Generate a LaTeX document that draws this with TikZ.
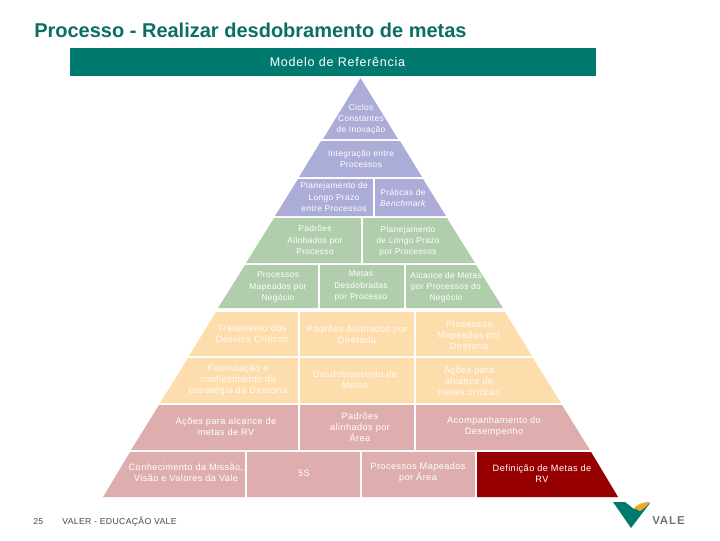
\documentclass[tikz,border=0pt]{standalone}
\usepackage{fontspec}
\setmainfont{Liberation Sans}
\usepackage{tikz}
\definecolor{valeTeal}{RGB}{0,122,110}
\definecolor{valeTitle}{RGB}{10,110,100}
\definecolor{valeGold}{RGB}{236,170,40}
\definecolor{bandLilac}{RGB}{172,172,216}
\definecolor{bandGreen}{RGB}{176,206,172}
\definecolor{bandPeach}{RGB}{253,221,172}
\definecolor{bandRose}{RGB}{222,174,174}
\definecolor{bandRed}{RGB}{150,0,0}
\definecolor{footGray}{RGB}{70,70,70}

\begin{document}
\begin{tikzpicture}[
    x=0.75pt, y=-0.75pt,
    band/.style={fill=#1, draw=none},
    gap/.style={draw=white, line width=1.6pt},
    cell/.style={align=center, text=white, font=\fontsize{6.9}{8.3}\selectfont\addfontfeature{LetterSpace=4.5}, inner sep=0pt},
    small/.style={cell, font=\fontsize{6.3}{8.3}\selectfont\addfontfeature{LetterSpace=4}},
    faint/.style={cell, text=white!92!bandPeach},
    foot/.style={anchor=west, inner sep=0pt, text=footGray, font=\fontsize{6.5}{7.5}\selectfont\addfontfeature{LetterSpace=4}}
]
\useasboundingbox (0,0) rectangle (720,540);
% header
\node[anchor=west, inner sep=0pt, text=valeTitle, font=\fontsize{15}{18}\bfseries\selectfont] (title) at (34,30) {Processo - Realizar desdobramento de metas};
\node[fill=valeTeal, minimum width=394.5pt, minimum height=21pt, inner sep=0pt, text=white, font=\fontsize{9.4}{11}\selectfont\addfontfeature{LetterSpace=6}] (header) at (333,62) {};
\node[inner sep=0pt, text=white, font=\fontsize{9.4}{11}\selectfont\addfontfeature{LetterSpace=6}] (headerText) at (337.5,62) {Modelo de Referência};
% pyramid bands
\fill[band=bandLilac] (360.5,78) -- (323,139) -- (398,139) -- cycle;
\fill[band=bandLilac] (321,141) -- (400,141) -- (422,177) -- (299,177) -- cycle;
\fill[band=bandLilac] (298,179) -- (423,179) -- (446,216) -- (275,216) -- cycle;
\fill[band=bandGreen] (274,218) -- (447,218) -- (475,263) -- (246,263) -- cycle;
\fill[band=bandGreen] (245,265) -- (476,265) -- (503,308) -- (218,308) -- cycle;
\fill[band=bandPeach] (216,312) -- (505,312) -- (532,356) -- (189,356) -- cycle;
\fill[band=bandPeach] (188,358) -- (533,358) -- (561,403) -- (160,403) -- cycle;
\fill[band=bandRose] (159,405) -- (562,405) -- (590,450) -- (131,450) -- cycle;
\fill[band=bandRose] (130,452) -- (591,452) -- (618,497) -- (103,497) -- cycle;
\fill[band=bandRed] (477,452) -- (591,452) -- (618,497) -- (477,497) -- cycle;
% cell gaps
\draw[gap] (374,178) -- (374,217);
\draw[gap] (362,217) -- (362,264);
\draw[gap] (319,264) -- (319,309);
\draw[gap] (405,264) -- (405,309);
\draw[gap] (299,311) -- (299,451);
\draw[gap] (415,311) -- (415,451);
\draw[gap] (246,451) -- (246,498);
\draw[gap] (361,451) -- (361,498);
\draw[gap] (476,451) -- (476,498);
% labels
\node[small] (ciclos) at (361,119) {Ciclos\\Constantes\\de Inovação};
\node[small] (integracao) at (361,159) {Integração entre\\Processos};
\node[small] (planLongo) at (334,197) {Planejamento de\\Longo Prazo\\entre Processos};
\node[small] (praticas) at (403,198) {Práticas de\\\textit{Benchmark}};
\node[small] (padroes) at (315,240) {Padrões\\Alinhados por\\Processo};
\node[small] (planProc) at (408,241) {Planejamento\\de Longo Prazo\\por Processos};
\node[small] (mapNeg) at (278,287) {Processos\\Mapeados por\\Negócio};
\node[small] (metasDesd) at (361,286) {Metas\\Desdobradas\\por Processo};
\node[small] (alcance) at (446,287) {Alcance de Metas\\por Processos do\\Negócio};
\node[faint] (tratamento) at (252,334) {Tratamento dos\\Desvios Críticos};
\node[faint] (padDir) at (357,335) {Padrões Alinhados por\\Diretoria};
\node[faint] (mapDir) at (469,335) {Processos\\Mapeados por\\Diretoria};
\node[faint] (formulacao) at (238,380) {Formulação e\\conhecimento da\\estratégia da Diretoria};
\node[faint] (desdobr) at (355,380) {Desdobramento de\\Metas};
\node[faint] (acoesCrit) at (469,381) {Ações para\\alcance de\\metas críticas};
\node[cell] (acoesRV) at (226,427) {Ações para alcance de\\metas de RV};
\node[cell] (padArea) at (360,427) {Padrões\\alinhados por\\Área};
\node[cell] (acomp) at (494,427) {Acompanhamento do\\Desempenho};
\node[cell] (missao) at (186,473) {Conhecimento da Missão,\\Visão e Valores da Vale};
\node[cell] (cincoS) at (304,473) {5S};
\node[cell] (mapArea) at (418,473) {Processos Mapeados\\por Área};
\node[cell] (defMetas) at (542,474) {Definição de Metas de\\RV};
% footer
\node[foot] (pagina) at (33,522) {25};
\node[foot] (rodape) at (62,522) {VALER - EDUCAÇÃO VALE};
% logo
\fill[valeTeal] (613,502) -- (625,502) -- (634,509) -- (650,503) -- (631,528) -- cycle;
\fill[valeGold] (634,508) .. controls (639,503) and (645,502) .. (650,502) .. controls (646,507) and (642,510) .. (640,511) -- cycle;
\node[anchor=west, inner sep=0pt, text=black!55, font=\fontsize{8.6}{11}\bfseries\selectfont\addfontfeature{LetterSpace=8}] (logoText) at (652,520.5) {VALE};
\end{tikzpicture}
\end{document}
